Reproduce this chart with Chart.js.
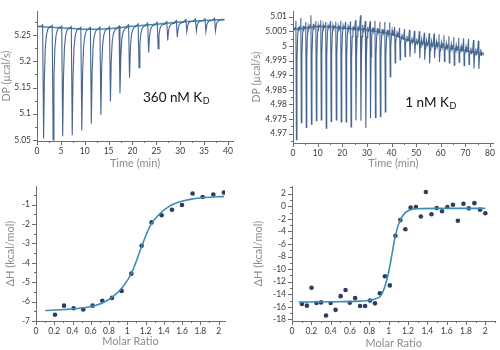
<!DOCTYPE html>
<html>
<head>
<meta charset="utf-8">
<script src="https://cdn.jsdelivr.net/npm/chart.js@4"></script>
<style>
html, body { margin: 0; padding: 0; background: #fff; }
#wrap { position: relative; width: 500px; height: 350px; overflow: hidden; }
canvas { position: absolute; }
</style>
</head>
<body>
<div id="wrap">
    <canvas id="rawA" width="250" height="175" style="left:0;top:0"></canvas>
    <canvas id="rawB" width="250" height="175" style="left:250px;top:0"></canvas>
    <canvas id="isoA" width="250" height="175" style="left:0;top:175px"></canvas>
    <canvas id="isoB" width="250" height="175" style="left:250px;top:175px"></canvas>
</div>
<script>
// 360 nM KD - råsignal (injektioner)
const injTimesA = [1.3, 3.3, 5.3, 7.3, 9.3, 11.3, 13.3, 15.3, 17.3, 19.3, 21.3, 23.3, 25.3, 27.3, 29.3, 31.3, 33.3, 35.3, 37.3];
const baseA = [5.2665, 5.2655, 5.264, 5.263, 5.2615, 5.2615, 5.262, 5.2625, 5.264, 5.2665, 5.268, 5.2695, 5.271, 5.2725, 5.2745, 5.2765, 5.2775, 5.278, 5.279];
const minA = [5.053, 5.050, 5.057, 5.059, 5.068, 5.081, 5.098, 5.124, 5.139, 5.169, 5.188, 5.217, 5.224, 5.240, 5.246, 5.257, 5.258, 5.257, 5.258];
const topA = [5.270, 5.269, 5.2675, 5.2665, 5.265, 5.265, 5.2655, 5.266, 5.2675, 5.270, 5.2715, 5.273, 5.2745, 5.276, 5.278, 5.280, 5.281, 5.2815, 5.2825];
const traceEndsA = [[0.2, 5.2668], [39.2, 5.2798]];
const baseFitTimeA = [0.2, 5, 10, 15, 20, 25, 30, 35, 39.3];
const baseFitA = [5.2668, 5.264, 5.2615, 5.2625, 5.267, 5.271, 5.275, 5.278, 5.2798];
// toppens form: tid efter injektion, andel av djup, andel av spik
const shapeDtA = [-0.5, -0.12, 0.08, 0.25, 0.45, 0.7, 1.0, 1.4];
const shapeMinA = [0, 0, 1, 0.45, 0.18, 0.07, 0.02, 0];
const shapeTopA = [0, 1, 0, 0, 0, 0, 0, 0];

// 1 nM KD - råsignal
const injTimesB = [1.3, 3.3, 5.3, 7.4, 9.4, 11.4, 13.4, 15.4, 17.5, 19.5, 21.5, 23.5, 25.5, 27.5, 29.5, 31.4, 33.4, 35.4, 37.4, 39.4,
    41.4, 43.4, 45.4, 47.4, 49.4, 51.4, 53.4, 55.4, 57.4, 59.4, 61.4, 63.4, 65.4, 67.4, 69.4, 71.4, 73.4, 75.4];
const baseB = [5.0056, 5.0058, 5.0061, 5.0063, 5.0065, 5.0066, 5.0066, 5.0065, 5.0063, 5.0061, 5.0060, 5.0059, 5.0058, 5.0057, 5.0056, 5.0053, 5.0050, 5.0047, 5.0044, 5.0042,
    5.0037, 5.0031, 5.0024, 5.0018, 5.0014, 5.0011, 5.0008, 5.0005, 5.0003, 5.0000, 4.9996, 4.9993, 4.9990, 4.9987, 4.9985, 4.9982, 4.9979, 4.9976];
const minB = [4.9679, 4.9737, 4.9721, 4.9732, 4.9744, 4.9747, 4.9719, 4.9742, 4.9747, 4.9740, 4.9740, 4.9723, 4.9745, 4.9744, 4.9719, 4.9753, 4.9755, 4.9758, 4.9774, 4.9895,
    4.9942, 4.9953, 4.9963, 4.9963, 4.9974, 4.9958, 4.9953, 4.9940, 4.9958, 4.9944, 4.9947, 4.9942, 4.9934, 4.9944, 4.9932, 4.9937, 4.9923, 4.9921];
const topB = [5.0085, 5.0095, 5.0082, 5.0105, 5.0085, 5.0088, 5.0082, 5.0085, 5.0083, 5.0086, 5.0082, 5.0084, 5.0088, 5.0105, 5.0085, 5.0084, 5.0086, 5.0083, 5.0082, 5.0080,
    5.0065, 5.0062, 5.0058, 5.0055, 5.0052, 5.0050, 5.0045, 5.0043, 5.0042, 5.0040, 5.0036, 5.0033, 5.0030, 5.0028, 5.0026, 5.0024, 5.0020, 5.0018];
const traceEndsB = [[0.1, 5.0062], [77.6, 4.9968]];
const baseFitTimeB = [0.3, 5, 10.6, 15, 21, 29, 34, 38.5, 42, 46, 50, 54, 62, 70, 77.4];
const baseFitB = [5.0056, 5.0061, 5.0066, 5.0065, 5.006, 5.0056, 5.0049, 5.0043, 5.0035, 5.0022, 5.0014, 5.0008, 4.9995, 4.9984, 4.9974];
const shapeDtB = [-0.7, -0.4, -0.12, 0.08, 0.3, 0.55, 0.85, 1.05, 1.2];
const shapeMinB = [0, 0, 0, 1, 0.3, 0.08, 0, 0, 0];
const shapeTopB = [0, 0.25, 1, 0, 0, 0, 0.3, -0.2, 0.05];

// isotermer
const ratioA = [0.208, 0.307, 0.412, 0.518, 0.620, 0.726, 0.832, 0.938, 1.044, 1.157, 1.266, 1.376, 1.489, 1.599, 1.715, 1.825, 1.942, 2.058];
const dhA = [-6.68, -6.21, -6.34, -6.41, -6.21, -5.96, -5.81, -5.45, -4.56, -3.12, -1.92, -1.55, -1.27, -1.02, -0.43, -0.61, -0.48, -0.38];
const fitRatioA = [0.10, 0.30, 0.50, 0.65, 0.75, 0.85, 0.95, 1.05, 1.15, 1.25, 1.35, 1.45, 1.55, 1.70, 1.85, 2.06];
const fitDhA = [-6.46, -6.41, -6.33, -6.2, -6.02, -5.72, -5.25, -4.5, -3.25, -2.1, -1.5, -1.12, -0.9, -0.72, -0.64, -0.58];

const ratioB = [0.103, 0.154, 0.202, 0.253, 0.301, 0.352, 0.400, 0.451, 0.503, 0.554, 0.598, 0.653, 0.704, 0.756, 0.807, 0.858, 0.909, 0.961, 1.012, 1.070,
    1.121, 1.173, 1.227, 1.282, 1.333, 1.385, 1.443, 1.497, 1.552, 1.607, 1.665, 1.716, 1.774, 1.829, 1.887, 1.945, 2.000];
const dhB = [-15.56, -15.82, -12.96, -15.40, -15.30, -17.38, -15.40, -16.49, -14.31, -13.32, -15.35, -14.62, -15.87, -15.87, -14.99, -15.45, -13.84, -11.14, -12.60, -4.70,
    -2.21, -3.66, -0.23, -0.13, -1.64, 2.26, -1.27, -0.29, -0.81, -0.13, 0.23, -2.31, 0.39, -0.34, 0.49, -0.55, -1.12];
const fitRatioB = [0.07, 0.4, 0.7, 0.85, 0.92, 0.96, 1.0, 1.03, 1.06, 1.1, 1.15, 1.21, 1.3, 1.5, 2.0];
const fitDhB = [-15.25, -15.2, -15.1, -14.8, -14.2, -12.8, -10.5, -8.0, -5.4, -3.0, -1.4, -0.65, -0.4, -0.35, -0.35];

const traceColor = '#47668f';
const fitColor = '#3d8db3';
const dotColor = '#2b3e62';

Chart.defaults.font.family = 'Lato, "Open Sans", sans-serif';

/**
* Bygger råsignalen från injektionstider, baslinje och toppdjup
*/
function buildTrace(times, bases, mins, tops, dts, wMin, wTop, ends) {
    const pts = [{x: ends[0][0], y: ends[0][1]}];
    times.forEach((t, i) => {
        dts.forEach((dt, k) => {
            pts.push({x: t + dt, y: bases[i] + wMin[k] * (mins[i] - bases[i]) + wTop[k] * (tops[i] - bases[i])});
        });
    });
    pts.push({x: ends[1][0], y: ends[1][1]});
    return pts;
}

function zip(xs, ys) {
    return xs.map((x, i) => ({x: x, y: ys[i]}));
}

function isMajor(v, major) {
    const r = v / major;
    return Math.abs(r - Math.round(r)) < 1e-6;
}

function fmt(v) {
    return String(parseFloat(v.toFixed(4)));
}

/**
* Skapar en axel med stora och små streck
*/
function makeAxis(c) {
    return {
        type: 'linear',
        min: c.min,
        max: c.max,
        grid: {display: false, drawTicks: false},
        border: {display: true, color: '#6e6e6e', width: 1},
        ticks: {
            stepSize: c.step,
            autoSkip: false,
            includeBounds: false,
            maxRotation: 0,
            padding: c.pad,
            color: '#3a3a3a',
            font: {size: 8.5},
            callback: (v) => isMajor(v, c.major) ? fmt(v) : ''
        },
        title: {
            display: true,
            text: c.title,
            color: '#8c8c8c',
            font: {size: c.titleSize},
            padding: c.titlePad
        },
        afterFit: (s) => {
            if (c.w) s.width = c.w;
            if (c.h) s.height = c.h;
        }
    };
}

// ritar streckmarkeringar på axlarna
const tickMarks = {
    id: 'tickMarks',
    afterDraw(chart) {
        const ctx = chart.ctx;
        ctx.save();
        ctx.strokeStyle = '#6e6e6e';
        ctx.lineWidth = 1;
        ['x', 'y'].forEach((id) => {
            const s = chart.scales[id];
            s.ticks.forEach((t) => {
                const len = t.label !== '' ? 4 : 2;
                const p = Math.round(s.getPixelForValue(t.value)) + 0.5;
                ctx.beginPath();
                if (id === 'x') {
                    ctx.moveTo(p, s.top);
                    ctx.lineTo(p, s.top + len);
                } else {
                    ctx.moveTo(s.right, p);
                    ctx.lineTo(s.right - len, p);
                }
                ctx.stroke();
            });
        });
        ctx.restore();
    }
};

// text "xx nM KD" med nedsänkt D
const kdLabel = {
    id: 'kdLabel',
    afterDatasetsDraw(chart, args, opts) {
        if (!opts || !opts.text) return;
        const ctx = chart.ctx;
        const x = chart.scales.x.getPixelForValue(opts.x);
        const y = chart.scales.y.getPixelForValue(opts.y);
        ctx.save();
        ctx.fillStyle = '#111';
        ctx.font = '13.5px Lato, "Open Sans", sans-serif';
        ctx.fillText(opts.text, x, y);
        const w = ctx.measureText(opts.text).width;
        ctx.font = '9px Lato, "Open Sans", sans-serif';
        ctx.fillText(opts.sub, x + w + 0.5, y + 2);
        ctx.restore();
    }
};

function createRawChart(id, trace, fit, xAxis, yAxis, pad, label) {
    new Chart(document.getElementById(id), {
        type: 'line',
        data: {
            datasets: [
                {data: trace, borderColor: traceColor, borderWidth: 1.1, pointRadius: 0, tension: 0},
                {data: fit, borderColor: fitColor, borderWidth: 1.5, pointRadius: 0, tension: 0.3}
            ]
        },
        options: {
            responsive: false,
            animation: false,
            devicePixelRatio: 1,
            layout: {padding: pad},
            scales: {x: makeAxis(xAxis), y: makeAxis(yAxis)},
            plugins: {legend: {display: false}, tooltip: {enabled: false}, kdLabel: label}
        },
        plugins: [tickMarks, kdLabel]
    });
}

function createIsoChart(id, dots, fit, xAxis, yAxis, pad) {
    new Chart(document.getElementById(id), {
        type: 'line',
        data: {
            datasets: [
                {data: fit, borderColor: fitColor, borderWidth: 1.6, pointRadius: 0, cubicInterpolationMode: 'monotone'},
                {data: dots, showLine: false, pointRadius: 2.3, pointBorderWidth: 0, pointBackgroundColor: dotColor}
            ]
        },
        options: {
            responsive: false,
            animation: false,
            devicePixelRatio: 1,
            layout: {padding: pad},
            scales: {x: makeAxis(xAxis), y: makeAxis(yAxis)},
            plugins: {legend: {display: false}, tooltip: {enabled: false}}
        },
        plugins: [tickMarks]
    });
}

createRawChart('rawA',
    buildTrace(injTimesA, baseA, minA, topA, shapeDtA, shapeMinA, shapeTopA, traceEndsA),
    zip(baseFitTimeA, baseFitA),
    {min: 0, max: 41.05, step: 2.5, major: 5, pad: 5, title: 'Time (min)', titleSize: 11, titlePad: {top: 0, bottom: 5.4}, h: 34},
    {min: 5.048, max: 5.296, step: 0.025, major: 0.05, pad: 6, title: 'DP (µcal/s)', titleSize: 10.5, titlePad: {top: 0.2, bottom: 0}, w: 37},
    {top: 3, right: 17, left: 0, bottom: 0},
    {text: '360 nM K', sub: 'D', x: 22.2, y: 5.122});

createRawChart('rawB',
    buildTrace(injTimesB, baseB, minB, topB, shapeDtB, shapeMinB, shapeTopB, traceEndsB),
    zip(baseFitTimeB, baseFitB),
    {min: 0, max: 81.4, step: 5, major: 10, pad: 5, title: 'Time (min)', titleSize: 11, titlePad: {top: 0, bottom: 5.4}, h: 32},
    {min: 4.9668, max: 5.0119, step: 0.0025, major: 0.005, pad: 6, title: 'DP (µcal/s)', titleSize: 10.5, titlePad: {top: 0.2, bottom: 0}, w: 43},
    {top: 1, right: 3, left: 0, bottom: 0},
    {text: '1 nM K', sub: 'D', x: 45.6, y: 4.9792});

createIsoChart('isoA',
    zip(ratioA, dhA),
    zip(fitRatioA, fitDhA),
    {min: 0, max: 2.07, step: 0.1, major: 0.2, pad: 5, title: 'Molar Ratio', titleSize: 11, titlePad: {top: 0, bottom: 1.7}, h: 29},
    {min: -7, max: -0.05, step: 0.5, major: 1, pad: 6, title: 'ΔH (kcal/mol)', titleSize: 11, titlePad: {top: 3.4, bottom: 0}, w: 36},
    {top: 8, right: 25, left: 0, bottom: 0});

createIsoChart('isoB',
    zip(ratioB, dhB),
    zip(fitRatioB, fitDhB),
    {min: 0, max: 2.105, step: 0.1, major: 0.2, pad: 5, title: 'Molar Ratio', titleSize: 11, titlePad: {top: 0, bottom: 0}, h: 29},
    {min: -18.26, max: 3.2, step: 1, major: 2, pad: 6, title: 'ΔH (kcal/mol)', titleSize: 11, titlePad: {top: 1.4, bottom: 0}, w: 42},
    {top: 8, right: 3, left: 0, bottom: 0});
</script>
</body>
</html>
